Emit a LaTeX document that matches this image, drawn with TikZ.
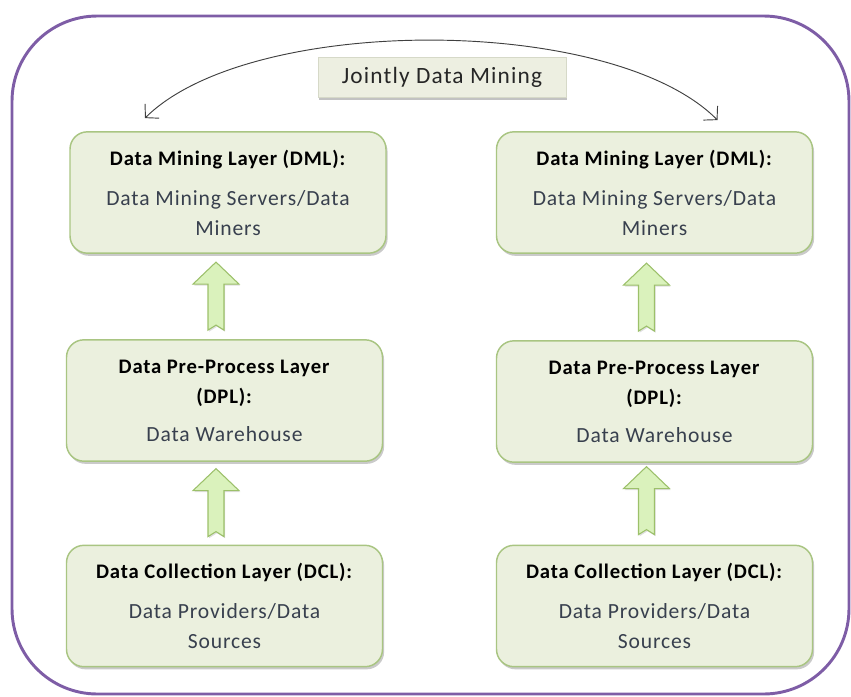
\documentclass[tikz,border=0pt]{standalone}
\usepackage{fontspec}
\setmainfont{Carlito}[LetterSpace=4]
\newfontfamily\jfont{Carlito}[LetterSpace=5]
\usetikzlibrary{shadows,arrows.meta,calc}
\definecolor{boxfill}{HTML}{EBF0DE}
\definecolor{boxdraw}{HTML}{A9C582}
\definecolor{arrfill}{HTML}{DAF2BC}
\definecolor{arrdraw}{HTML}{9CC06A}
\definecolor{purp}{HTML}{7E5DA6}
\definecolor{bodytext}{HTML}{38404E}
\definecolor{jfill}{HTML}{EDEFE1}
\definecolor{jdraw}{HTML}{D6D9C8}
\newcommand{\ttl}[1]{\textcolor{black}{\fontsize{15.5}{22.5}\selectfont\textbf{#1}}}
\begin{document}
\begin{tikzpicture}[x=0.75pt,y=-0.75pt,
  layerbox/.style={draw=boxdraw, line width=1.1pt, fill=boxfill, rounded corners=13pt,
    minimum width=237pt, minimum height=91pt, align=center, text=bodytext,
    font=\fontsize{16.2}{22.5}\selectfont,
    drop shadow={shadow xshift=1.2pt, shadow yshift=-2pt, opacity=0.35, fill=black!60}},
  jbox/.style={draw=jdraw, line width=0.6pt, fill=jfill, minimum width=186pt, minimum height=30pt,
    text=black!85, font=\jfont\fontsize{17.5}{20}\selectfont,
    drop shadow={shadow xshift=1pt, shadow yshift=-2pt, opacity=0.4, fill=black!60}},
  barrow/.style={draw=arrdraw, line width=0.8pt, fill=arrfill, line join=miter,
    drop shadow={shadow xshift=0.8pt, shadow yshift=-1.2pt, opacity=0.25, fill=black!50}},
  outer/.style={draw=purp, line width=2.2pt, rounded corners=64pt},
  jointarrow/.style={draw=black!75, line width=0.7pt, {Straight Barb[length=7pt,width=15pt]}-{Straight Barb[length=7pt,width=15pt]}}
]
\useasboundingbox (0,0) rectangle (851,697);
\draw[outer] (12,16) rectangle (849,694);

\node[layerbox] (ldml) at (228,192.5) {\ttl{Data Mining Layer (DML):}\\[7.5pt]Data Mining Servers/Data\\Miners};
\node[layerbox] (ldpl) at (224.5,400.5) {\ttl{Data Pre-Process Layer}\\\ttl{(DPL):}\\[6pt]Data Warehouse};
\node[layerbox] (ldcl) at (224.5,606) {\ttl{Data Collection Layer (DCL):}\\[7.5pt]Data Providers/Data\\Sources};

\node[layerbox] (rdml) at (654.5,192.5) {\ttl{Data Mining Layer (DML):}\\[7.5pt]Data Mining Servers/Data\\Miners};
\node[layerbox] (rdpl) at (654.5,401.5) {\ttl{Data Pre-Process Layer}\\\ttl{(DPL):}\\[6pt]Data Warehouse};
\node[layerbox] (rdcl) at (654.5,606) {\ttl{Data Collection Layer (DCL):}\\[7.5pt]Data Providers/Data\\Sources};

\node[jbox] (joint) at (442,77) {Jointly Data Mining};

% block arrows (tail point)
\coordinate (a1) at ($(ldpl.north)+(-8.5,-9)$);
\coordinate (a2) at ($(ldcl.north)+(-8.5,-8)$);
\coordinate (a3) at ($(rdpl.north)+(-8,-9)$);
\coordinate (a4) at ($(rdcl.north)+(-8,-10)$);
\foreach \c in {a1,a2,a3,a4}{
  \draw[barrow] (\c) ++(-8,0) -- ++(0,-46) -- ++(-15,0) -- ++(23,-22) -- ++(23,22)
     -- ++(-15,0) -- ++(0,46) -- ++(-8,-5) -- cycle;
}

% jointly mining arc
\coordinate (jl) at ($(ldml.north)+(-83,-13)$);
\coordinate (jr) at ($(rdml.north)+(63,-11)$);
\draw[jointarrow] (jl) .. controls (250,14) and (612,14) .. (jr);
\end{tikzpicture}
\end{document}
